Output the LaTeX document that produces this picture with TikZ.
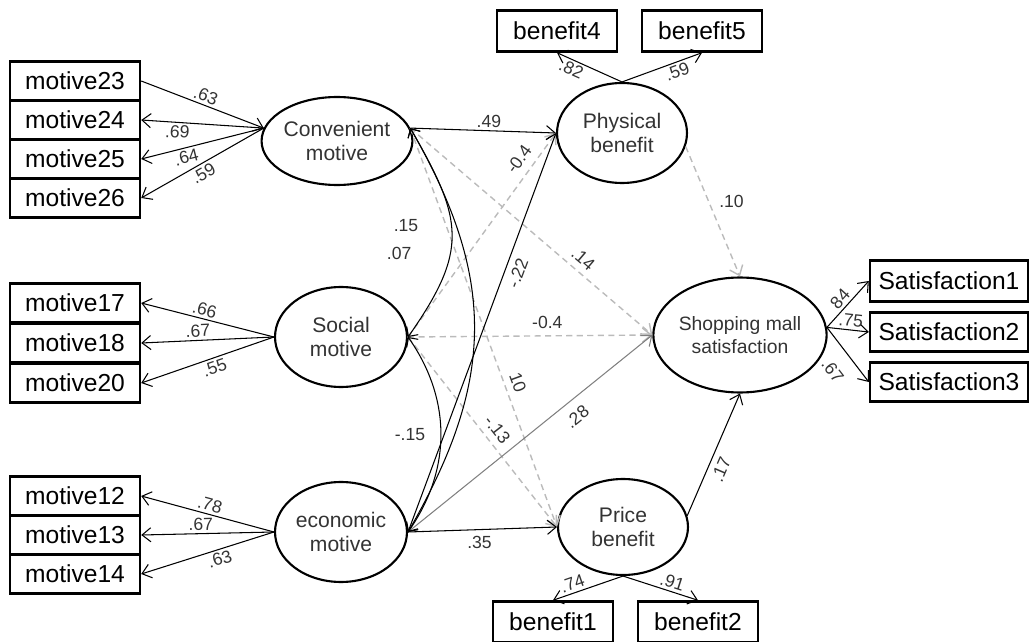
\documentclass[tikz,border=0pt]{standalone}
\usepackage{fontspec}
\setmainfont{Liberation Sans}
\usetikzlibrary{shapes.geometric,arrows.meta}
\definecolor{dashgray}{HTML}{BBBBBB}
\definecolor{txtgray}{HTML}{333333}
\begin{document}
\begin{tikzpicture}[
		x=0.02cm, y=-0.02cm,
		>={Straight Barb[length=5pt,width=8pt]},
		obs/.style={draw, line width=1.4pt, minimum width=2.6cm, minimum height=0.78cm, inner sep=0pt, font=\fontsize{14}{16}\selectfont},
		latent/.style={ellipse, draw, line width=1.2pt, inner sep=0pt, align=center, text=txtgray, font=\fontsize{12}{14}\selectfont},
		regpath/.style={->, line width=0.6pt},
		dpath/.style={->, dashgray, line width=0.8pt, dash pattern=on 3.5pt off 2.5pt},
		corr/.style={{Straight Barb[length=4pt]}-{Straight Barb[length=4pt]}, line width=0.6pt},
		lbl/.style={font=\fontsize{10}{12}\selectfont, text=txtgray, inner sep=1.5pt}
	]
	\useasboundingbox (0,0) rectangle (1029,642);

	\node[latent, minimum width=2.6cm, minimum height=1.76cm] (conv) at (337,141) {Convenient\\motive};
	\node[latent, minimum width=2.64cm, minimum height=2cm] (soc) at (341,337) {Social\\motive};
	\node[latent, minimum width=2.64cm, minimum height=2cm] (econ) at (341,532) {economic\\motive};
	\node[latent, minimum width=2.6cm, minimum height=2cm] (phys) at (622,133) {Physical\\benefit};
	\node[latent, minimum width=2.6cm, minimum height=1.92cm] (price) at (623,527) {Price\\benefit};
	\node[latent, minimum width=2.9cm, minimum height=2.3cm, font=\fontsize{11}{13}\selectfont] (shop) at (740,335) {Shopping mall\\satisfaction};

	\foreach \nm/\y in {23/81,24/120,25/159,26/198,17/303,18/343,20/383,12/496,13/535,14/574}
		\node[obs] (m\nm) at (75,\y) {motive\nm};
	\node[obs, minimum width=2.4cm, minimum height=0.82cm] (b4) at (557,31) {benefit4};
	\node[obs, minimum width=2.4cm, minimum height=0.82cm] (b5) at (702,31) {benefit5};
	\node[obs, minimum width=2.4cm, minimum height=0.82cm] (b1) at (553,622) {benefit1};
	\node[obs, minimum width=2.4cm, minimum height=0.82cm] (b2) at (698,622) {benefit2};
	\node[obs, minimum width=3.16cm, minimum height=0.82cm] (s1) at (949,281) {Satisfaction1};
	\node[obs, minimum width=3.16cm, minimum height=0.78cm] (s2) at (949,332) {Satisfaction2};
	\node[obs, minimum width=3.16cm, minimum height=0.78cm] (s3) at (949,382) {Satisfaction3};

	\draw[regpath] (m23.east) -- node[lbl, sloped, above, pos=.5] {.63} (conv.170);
	\draw[regpath] (conv.170) -- node[lbl, sloped, below, pos=.7] {.69} (m24.east);
	\draw[regpath] (conv.170) -- node[lbl, sloped, below, pos=.65] {.64} (m25.east);
	\draw[regpath] (conv.170) -- node[lbl, sloped, below, pos=.53] {.59} (m26.east);
	\draw[regpath] (soc.west) -- node[lbl, sloped, above, pos=.54] {.66} (m17.east);
	\draw[regpath] (soc.west) -- node[lbl, sloped, above, pos=.57] {.67} (m18.east);
	\draw[regpath] (soc.west) -- node[lbl, sloped, below, pos=.47] {.55} (m20.east);
	\draw[regpath] (econ.west) -- node[lbl, sloped, above, pos=.5] {.78} (m12.east);
	\draw[regpath] (econ.west) -- node[lbl, sloped, above, pos=.55] {.67} (m13.east);
	\draw[regpath] (econ.west) -- node[lbl, sloped, below, pos=.43] {.63} (m14.east);
	\draw[regpath] (phys.north) -- node[lbl, sloped, below, pos=.72] {.82} (b4.south);
	\draw[regpath] (phys.north) -- node[lbl, sloped, below, pos=.65] {.59} (b5.south);
	\draw[regpath] (price.south) -- node[lbl, sloped, above, pos=.68] {.74} (b1.north);
	\draw[regpath] (price.south) -- node[lbl, sloped, above, pos=.62] {.91} (b2.north);
	\draw[regpath] (shop.5) -- node[lbl, sloped, above, pos=.48] {84} (s1.west);
	\draw[regpath] (shop.5) -- node[lbl, sloped, above, pos=.55] {.75} (s2.west);
	\draw[regpath] (shop.5) -- node[lbl, sloped, below=7pt, pos=.55] {.67} (s3.west);

	\draw[regpath] (conv.10) -- node[lbl, above, pos=.54] {.49} (phys.west);
	\draw[dpath] (conv.10) -- node[lbl, sloped, above=2pt, pos=.68] {.14} (shop.west);
	\draw[dpath] (conv.10) -- node[lbl, sloped, above=2pt, pos=.65] {10} (price.west);
	\draw[dpath] (soc.east) -- node[lbl, sloped, above=3pt, pos=.83] {-0.4} (phys.west);
	\draw[dpath] (soc.east) -- node[lbl, above=2pt, pos=.57] {-0.4} (shop.west);
	\draw[dpath] (soc.east) -- node[lbl, sloped, above=2pt, pos=.53] {-.13} (price.west);
	\draw[regpath] (econ.east) -- node[lbl, sloped, below=2pt, pos=.66] {-.22} (phys.west);
	\draw[regpath, gray] (econ.east) -- node[lbl, sloped, below=4pt, pos=.65] {.28} (shop.west);
	\draw[regpath] (econ.east) -- node[lbl, below=2pt, pos=.48] {.35} (price.west);
	\draw[dpath] (phys.-12) -- node[lbl, right, pos=.42, xshift=0.15cm] {.10} (shop.north);
	\draw[regpath] (price.10) -- node[lbl, sloped, below=2pt, pos=.42] {.17} (shop.south);

	\draw[corr] (conv.10) to[out=-60, in=55, looseness=1.3] node[lbl, pos=.45, left=0.6cm] {.15} (soc.east);
	\draw[corr] (conv.10) to[out=-60, in=60, looseness=1.1] node[lbl, pos=.3, left=1cm] {.07} (econ.east);
	\draw[corr] (soc.east) to[out=-55, in=55] node[lbl, pos=.5, left=0.25cm] {-.15} (econ.east);
\end{tikzpicture}
\end{document}
